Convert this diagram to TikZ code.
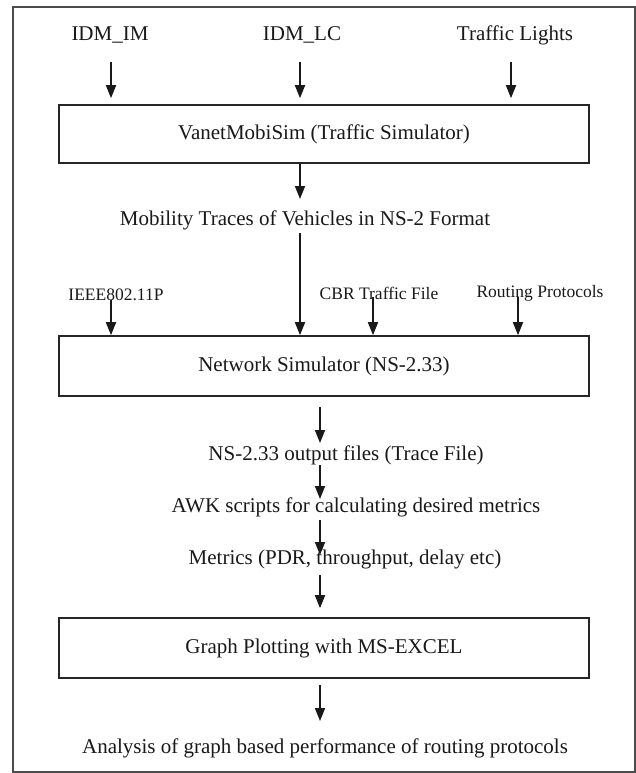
\documentclass[tikz,border=0pt]{standalone}
\usepackage{fontspec}
\setmainfont{Liberation Serif}
\usetikzlibrary{arrows.meta}
\begin{document}
\begin{tikzpicture}[x=1pt,y=-1pt,
  box/.style={draw=black!85, line width=1.6pt, minimum width=530pt, minimum height=58pt, inner sep=0pt, text=black!90, font=\fontsize{21}{25}\selectfont},
  lbl/.style={inner sep=0pt, text=black!90, font=\fontsize{21}{25}\selectfont},
  slbl/.style={inner sep=0pt, text=black!90, font=\fontsize{17.5}{21}\selectfont},
  arr/.style={line width=1.7pt, draw=black!90, -{Triangle[width=10pt,length=13pt]}}]
\useasboundingbox (0,0) rectangle (636,773);
\fill[white] (0,0) rectangle (636,773);
\draw[line width=2pt, draw=black!70] (13,7) rectangle (635,772);

% top inputs
\node[lbl] (idmim) at (110,35) {IDM\_IM};
\node[lbl] (idmlc) at (302,35) {IDM\_LC};
\node[lbl] (tl) at (515,35) {Traffic Lights};

\node[box] (vms) at (324,134) {VanetMobiSim (Traffic Simulator)};

\coordinate (s1) at (111,62);
\coordinate (s2) at (300,62);
\coordinate (s3) at (511,62);
\draw[arr] (s1) -- ([yshift=6pt]s1 |- vms.north);
\draw[arr] (s2) -- ([yshift=6pt]s2 |- vms.north);
\draw[arr] (s3) -- ([yshift=6pt]s3 |- vms.north);

\node[lbl] (mob) at (305,220) {Mobility Traces of Vehicles in NS-2 Format};
\coordinate (m1) at (300,199);
\draw[arr] (m1 |- vms.south) -- (m1);

% NS-2 inputs
\node[slbl] (ieee) at (116,295) {IEEE802.11P};
\node[slbl] (cbr) at (379,293) {CBR Traffic File};
\node[slbl] (rp) at (540,293) {Routing Protocols};

\node[box, minimum height=60pt] (ns) at (324,366) {Network Simulator (NS-2.33)};

\coordinate (m2) at (300,233);
\coordinate (i1) at (111,300);
\coordinate (c1) at (373,297);
\coordinate (r1) at (518,297);
\draw[arr] (m2) -- (m2 |- ns.north);
\draw[arr] (i1) -- (i1 |- ns.north);
\draw[arr] (c1) -- (c1 |- ns.north);
\draw[arr] (r1) -- (r1 |- ns.north);

% chain
\node[lbl] (out) at (346,455) {NS-2.33 output files (Trace File)};
\node[lbl] (awk) at (356,507) {AWK scripts for calculating desired metrics};
\node[lbl] (met) at (345,559) {Metrics (PDR, throughput, delay etc)};
\node[box, minimum height=60pt] (gp) at (324,648) {Graph Plotting with MS-EXCEL};
\node[lbl] (ana) at (325,748) {Analysis of graph based performance of routing protocols};

\coordinate (a1) at (320,407);
\coordinate (a2) at (320,443);
\coordinate (b1) at (320,465);
\coordinate (b2) at (320,499);
\coordinate (c2s) at (320,520);
\coordinate (c2e) at (320,555);
\coordinate (d1) at (320,575);
\coordinate (e1) at (320,685);
\coordinate (e2) at (320,721);
\draw[arr] (a1) -- (a2);
\draw[arr] (b1) -- (b2);
\draw[arr] (c2s) -- (c2e);
\draw[arr] (d1) -- ([yshift=9pt]d1 |- gp.north);
\draw[arr] (e1) -- (e2);
\end{tikzpicture}
\end{document}
